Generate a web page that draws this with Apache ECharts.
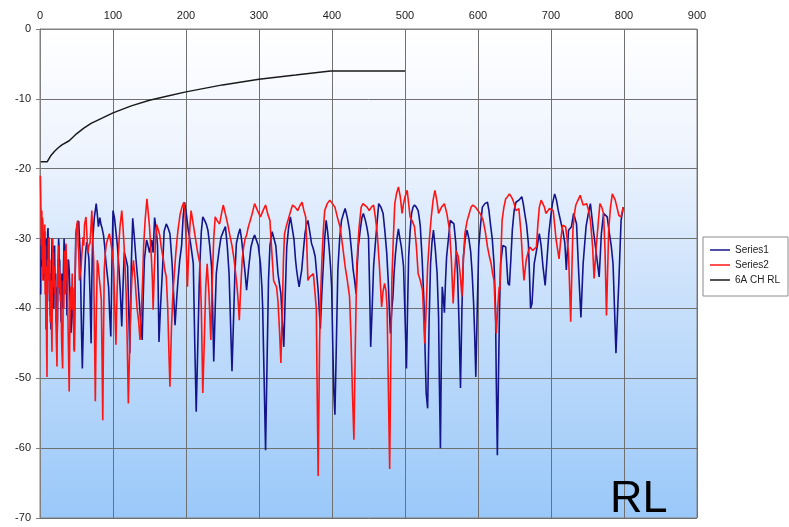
<!DOCTYPE html>
<html>
<head>
<meta charset="utf-8">
<script src="https://cdn.jsdelivr.net/npm/echarts@6/dist/echarts.min.js"></script>
<style>html,body{margin:0;padding:0;background:#fff}#c{width:789px;height:527px}</style>
</head>
<body>
<div id="c"></div>
<script>
const seriesNames = ['Series1', 'Series2', '6A CH RL'];
const xTicks = [0, 100, 200, 300, 400, 500, 600, 700, 800, 900];
const yTicks = [0, -10, -20, -30, -40, -50, -60, -70];

const series1Data = [[1,-38],[1.5,-30],[2,-34],[2.5,-28],[3,-32],[3.5,-27.5],[4,-33],[4.5,-30],[5,-36],[5.5,-31],[6,-34],[6.5,-29],[7,-35.5],[7.5,-32],[8,-38],[8.5,-31],[9,-30],[9.5,-35],[10,-33],[10.5,-29],[11,-28.5],[11.5,-32],[12,-36],[12.5,-33],[13,-39],[13.5,-35],[14,-41],[14.5,-37],[15,-43],[15.5,-36],[16,-33],[16.5,-30],[17,-34],[17.5,-31],[18,-37],[18.5,-33],[19,-40],[19.5,-34],[20,-31],[20.5,-36],[21,-38],[21.5,-35],[22,-42],[22.5,-37],[23,-39],[23.5,-44],[24,-41.5],[24.5,-36],[25,-33],[25.5,-30],[26,-31],[26.5,-35],[27,-33],[27.5,-38],[28,-36],[28.5,-40],[29,-42],[29.5,-37],[30,-35],[31,-40],[32,-35],[33,-30],[34,-34],[35,-31],[36,-36],[37,-41],[38,-35],[39,-33],[40,-34.5],[41,-38],[42.5,-43.5],[44,-40],[45,-38],[46,-42],[47,-46],[48,-37],[49,-29.5],[51,-28],[53,-27.5],[55,-32],[56,-38],[57,-44],[58,-48.6],[59.5,-42],[61,-35.5],[62.5,-32],[64,-30.5],[65.5,-31.5],[67,-33],[68.5,-38],[70,-45],[71,-36],[72,-30.5],[74.4,-27],[77,-25],[78.5,-26.5],[80,-28.3],[82,-27],[83.5,-28],[85,-28.5],[87,-29.5],[88.5,-31],[90,-33],[92,-35],[94,-37],[95.5,-41],[97,-44],[98.5,-34],[100,-26],[102,-27],[104,-29],[106,-31],[108,-34],[110,-37.5],[112,-42.6],[114,-36],[115.5,-32],[118,-33],[120,-34],[121.5,-40],[123,-46.4],[125,-34],[127,-27.1],[129,-29.5],[131.5,-33],[134,-36],[136,-39],[138,-42],[140,-44.5],[141.5,-38],[143,-33],[146,-30.2],[148,-31],[150,-32],[153,-30.2],[155,-32],[157,-27],[159,-28.5],[161,-31],[163,-44.8],[165,-40],[168,-34],[170,-29],[173,-27.9],[175.5,-28.5],[178,-29.3],[181,-33.6],[183,-38],[185,-42.4],[187,-39],[189,-36],[191.5,-33],[194,-31],[196,-27],[198,-24.8],[200.5,-26.5],[203,-28.8],[206,-30.5],[208,-32],[210,-33.6],[212,-45],[214,-54.8],[216,-46],[218,-37],[219,-33.6],[221,-29],[223,-26.9],[226,-27.5],[228,-28],[230,-28.8],[232.5,-31],[235,-34],[236.5,-40],[238,-47.6],[240,-40],[241.5,-35],[243,-33.6],[245.5,-31.5],[248,-29.8],[251,-29],[254,-28.3],[256.5,-31],[259,-35],[261,-42],[263,-49],[265,-42],[267,-35],[269,-30.7],[271.5,-29.5],[274,-28.6],[276,-30],[279,-33],[281,-35],[283,-37.4],[286,-34],[289,-31.2],[292,-30],[294,-29.5],[296,-29.3],[299,-31],[302,-33.6],[304,-37],[305,-39.8],[307,-50],[309,-60.3],[311,-48],[313,-36],[315,-31],[318,-29],[320,-28.8],[323,-31],[326,-35],[328,-36.5],[330,-37.9],[332,-42],[334,-45.5],[336,-38],[338,-31.2],[340.5,-28.5],[343,-26.9],[345.5,-28.5],[348,-30.2],[350,-33],[351.5,-34.5],[353.5,-36],[355,-36.9],[357,-35.5],[358.5,-34.5],[361,-31.5],[363,-29.3],[365,-28],[367,-27.4],[369.5,-29],[372,-30.7],[374.5,-31.5],[377,-32.6],[379,-35],[381,-37.4],[383,-41],[384,-42.9],[386,-38],[388,-34],[390,-30],[392,-27.4],[394,-29],[396,-31.2],[398,-34],[399.5,-36.9],[401,-45],[402.5,-52],[404,-55.2],[406,-45],[408,-34.5],[410.5,-30],[413,-27.4],[415.5,-26.5],[418,-25.7],[421,-27],[424,-28.8],[426.5,-31.5],[429,-34.5],[431,-36],[433,-37.9],[434.5,-34],[436,-31.2],[439,-28.5],[441,-27],[443,-26.4],[446,-27.5],[448,-28.5],[450,-29.8],[451.5,-37],[453,-45.5],[455,-40],[457,-34],[459,-31.2],[461.5,-28],[464,-25],[467,-25.5],[470,-26.4],[472.5,-29],[475,-32.1],[477,-36],[478.5,-40],[480,-43.6],[482,-40],[483.5,-38.3],[485,-35],[487,-32.1],[489,-30],[491,-28.6],[493,-30],[495,-31.2],[496.5,-32.5],[498,-34],[500,-41],[502,-48.6],[503.5,-40],[505,-32.6],[507,-29],[509,-26.4],[511,-25.5],[513,-25.2],[515.5,-25.5],[518,-26],[519.5,-27],[521,-28.3],[523.5,-33],[526,-39.3],[527.5,-46],[529,-52.1],[531,-54.3],[533,-42],[535,-33.6],[537,-30.5],[539,-28.8],[541.5,-31.5],[544,-35],[546,-41.2],[547,-50],[548.5,-60],[550,-45],[551,-36.9],[552.5,-38.5],[554,-40.6],[555.5,-36],[557,-32.6],[559.5,-30],[562,-27.4],[564.5,-27.5],[567,-27.9],[569.5,-30.5],[572,-35],[574,-42],[576,-51.4],[578,-40],[580,-32.6],[582.5,-30],[585,-28.8],[587.5,-30],[590,-31.9],[592,-35],[594,-39.3],[595.5,-44],[597,-49.8],[599,-40],[601,-31.2],[603.5,-28],[606,-25.5],[609.5,-25],[613,-24.8],[615,-26],[617,-27.9],[619.5,-30],[622,-33.6],[624,-40],[625,-50],[626.5,-61],[628,-50],[629.5,-40],[631,-33.6],[634,-31],[638,-31.2],[641,-36.4],[643,-36.7],[645,-33],[647,-28.8],[649.5,-26],[652,-24.8],[656,-24.5],[660,-24],[662,-25],[664,-26.4],[666.5,-28],[669,-30.7],[670.5,-35],[672,-40],[674,-39.3],[677,-33.6],[681,-31.2],[684,-29.3],[686.5,-31],[689,-34],[692,-36.7],[694.5,-33],[697,-29.3],[699.5,-27],[702,-25],[705,-23.6],[707.5,-24.5],[710,-26],[714,-27.9],[716.5,-29],[719,-30.7],[721,-34.5],[724,-28.8],[728,-28.3],[731,-26.4],[735,-27.9],[738,-35],[741,-41.3],[744,-33.6],[748,-28.3],[751,-26.5],[754,-25],[758,-28.8],[762,-32.1],[766,-35.5],[769,-29.3],[772,-26.4],[777,-26.9],[780,-29.3],[782.5,-31],[785,-33.6],[787,-40],[789,-46.4],[791,-41],[793,-36],[796,-27.4],[799,-25.5]];

const series2Data = [[0.5,-21],[1,-24],[1.5,-27],[2,-31],[2.5,-26],[3,-33],[3.5,-27],[4,-36],[4.5,-29],[5,-35],[5.5,-30],[6,-33],[6.5,-28],[7,-38],[7.5,-31],[8,-43],[8.5,-34],[9,-45],[9.6,-49.8],[10,-38],[10.5,-33],[11,-36],[11.5,-30],[12,-34],[12.5,-29.8],[13,-38],[13.5,-33],[14,-42],[14.6,-41.7],[15,-36],[15.5,-40],[16,-44],[16.4,-46.2],[17,-35],[17.5,-30],[18,-37],[18.5,-32],[19,-36],[19.5,-34],[20,-34.5],[20.5,-38],[21,-36],[21.5,-40],[22,-40.2],[22.5,-45],[23.3,-48.3],[24,-38],[24.5,-33],[25,-34.5],[25.5,-31],[26,-37],[26.5,-34],[27,-37],[27.5,-35],[28,-39],[28.5,-36],[29,-39.3],[29.5,-44],[30,-46],[31,-48.6],[32,-36],[32.7,-40],[33.3,-31.7],[34,-36],[34.5,-33],[35,-38],[35.6,-30.7],[36.3,-34],[37,-36],[37.5,-33],[38,-39.8],[39,-46],[40,-51.9],[41,-42],[41.7,-38],[42.5,-36.9],[43,-40],[43.5,-38],[44.1,-35],[44.7,-40.2],[45.3,-37],[46,-43],[47,-46.2],[48,-36],[49.3,-29.3],[50.5,-28],[51.6,-27.4],[52.3,-31],[53,-32],[54,-36],[55,-35],[56,-34.5],[57.5,-32],[59,-29.8],[60,-31],[61,-28],[63,-26.9],[64.5,-30],[65.7,-32.1],[67,-31],[68.5,-30.7],[70,-28],[71,-26],[72.3,-30],[73.5,-33.1],[74.5,-42],[75.8,-53.3],[77,-42],[78.5,-33.1],[80,-34],[81,-35.5],[82.5,-37],[84,-38.8],[85,-47],[86,-56],[87,-44],[88,-34.5],[89.5,-32],[91,-30.7],[93,-30],[95,-29.3],[97,-30.5],[98.6,-31.7],[100,-33],[101,-34.5],[102.5,-40],[104,-45.2],[105.5,-38],[107,-33.1],[108.5,-30],[109.6,-28.3],[111,-27],[112,-26],[113.5,-28],[115,-30.7],[116.5,-34],[118,-37.9],[119.5,-45],[121,-53.6],[123,-45],[124.6,-38.8],[126,-35.5],[128,-33.1],[130,-35.5],[131.5,-37.9],[133,-40],[135,-41.7],[137,-44.5],[139,-40],[140.6,-36],[142,-31],[144,-27.4],[146.5,-24.3],[148,-26],[150,-28.3],[152.5,-32.6],[154,-36],[155,-40.2],[156.5,-35],[158,-30.7],[160,-28],[162,-27.9],[164,-29.5],[166,-31.2],[169,-33],[171,-34.5],[173,-35.5],[175,-40],[176.5,-46],[178,-51.2],[180,-43],[182,-38],[184,-35],[186.5,-31.5],[189,-28.8],[192,-26.5],[194.5,-25.5],[197,-24.8],[198.5,-26],[200,-30],[202,-36.9],[204,-31],[205.5,-28],[207,-26],[210,-28],[213,-30],[216,-32],[219,-33.6],[221,-40],[222,-46],[223,-52.1],[225,-45],[227,-37],[229,-33.6],[231.5,-38],[234,-44.5],[236,-36],[238,-30],[240,-26.9],[243,-27.5],[246,-27.9],[248.5,-26.5],[251,-25.2],[254,-26.5],[257,-27.9],[260,-29.5],[263,-31],[266,-33.1],[268,-35],[270,-37],[271.5,-39],[273,-41.7],[275,-37],[277,-33],[279,-31.2],[281,-30],[283,-29.5],[285,-28.5],[287,-28.3],[290.5,-26.5],[294,-25],[298,-26],[302,-26.9],[305.5,-26],[309,-25.2],[312,-26.5],[315,-27.4],[317,-31],[320,-36],[322,-36.5],[324,-36.9],[326,-39],[328,-43],[330,-47.8],[332,-40],[333.5,-33],[335,-29.3],[338,-28],[341,-26.9],[343.5,-26],[346,-25.2],[349.5,-25.5],[353,-26],[356,-25.3],[359,-24.8],[361.5,-26],[364,-26.9],[365.5,-31],[367,-36],[369.5,-35.5],[372,-35.5],[374.5,-35],[377,-35],[378.5,-40],[379.5,-50],[381,-64],[383,-45],[384.5,-38],[386,-33.6],[388,-29],[390,-26],[393.5,-25],[397,-24.5],[400.5,-25],[404,-25.5],[407.5,-27],[411,-28.3],[414.5,-31],[418,-34],[421,-36],[424,-38.3],[426,-44],[428,-52],[430,-58.8],[432,-45],[434,-33.6],[437,-28.5],[440,-25.5],[442.5,-25],[445,-24.8],[448,-25.5],[451,-26],[454,-25.5],[457,-25.2],[459.5,-27],[462,-29.3],[465,-34],[468,-39.8],[470,-37.5],[472,-36.4],[474,-37.5],[475.5,-40],[477,-50],[479,-63],[480.5,-48],[482,-36],[484,-30],[486,-25],[488.5,-23.5],[491,-22.6],[493.5,-24],[496,-26.4],[498,-25],[500,-24],[503,-23.1],[505,-25],[507,-26.9],[510,-27.5],[513,-28.3],[515.5,-31],[518,-35],[521,-36],[524,-37.4],[525.5,-41],[527,-45],[529,-40],[531,-34],[533.5,-30],[536,-26.9],[538.5,-24.5],[541,-23.1],[543.5,-24.5],[546,-26.4],[550,-25.5],[554,-25],[557.5,-26.5],[561,-28.8],[563.5,-33],[566,-39.3],[568,-35],[570,-31.7],[573,-32.6],[575.5,-35],[578,-38.3],[580,-33],[582,-29.3],[585,-27.5],[588,-26.4],[590.5,-25.5],[593,-25.2],[596.5,-25.5],[600,-26],[603.5,-26.5],[607,-27.4],[610,-29],[613,-31.2],[615.5,-32.5],[618,-33.6],[620,-35],[622,-36],[623.5,-40],[625,-43.6],[627,-40],[629,-36.9],[630,-37.4],[631.5,-32],[633,-27.4],[635.5,-25.5],[638,-24.3],[640.5,-24],[643,-23.6],[645.5,-24],[648,-24.5],[650,-25.2],[652,-26],[656,-25.7],[659,-29.3],[661,-33],[663,-36],[666,-33.1],[668.5,-32],[671,-31.2],[675,-31.7],[680,-31.2],[682,-28],[684,-25.5],[686.5,-24.5],[689,-24.3],[691,-25.5],[693,-26.4],[698,-25.7],[703,-26],[705,-28],[707,-30.2],[709,-31.5],[711,-32.9],[713.5,-30],[716,-28.1],[720,-28.3],[722,-30],[724,-32.1],[725.5,-37],[727,-41.9],[728.5,-35],[730,-28.8],[732,-26.5],[734,-25.2],[737,-24.5],[740,-23.8],[742,-24.5],[744,-25.2],[749,-25],[751.5,-26],[754,-27.4],[757,-31.2],[759,-35.7],[762,-31.2],[764.5,-28],[767,-25],[769.5,-25.5],[772,-26.4],[774,-31.7],[776,-41],[777.5,-35],[779,-28.8],[781.5,-25.5],[784,-23.6],[788,-24.5],[793,-26.7],[796,-26.9],[799,-25.5]];

const limitData = [[1,-19],[10,-19],[15,-18.1],[20,-17.5],[25,-17],[30,-16.6],[40,-16],[50,-15],[60,-14.2],[70,-13.5],[80,-13],[90,-12.5],[100,-12],[125,-11],[150,-10.2],[175,-9.6],[200,-9],[250,-8],[300,-7.2],[350,-6.6],[398,-6],[500,-6]];

const chart = echarts.init(document.getElementById('c'), null, {renderer: 'canvas'});
const font = 'Liberation Sans';
chart.setOption({
  animation: false,
  backgroundColor: '#ffffff',
  textStyle: {fontFamily: font},
  grid: {
    left: 40, top: 29, right: 92, bottom: 9,
    show: true,
    borderColor: '#808080', borderWidth: 1,
    backgroundColor: {
      type: 'linear', x: 0, y: 0, x2: 0, y2: 1,
      colorStops: [
        {offset: 0, color: '#ffffff'},
        {offset: 0.25, color: '#eef4fe'},
        {offset: 0.55, color: '#c9e0fb'},
        {offset: 1, color: '#99c8f9'}
      ]
    }
  },
  legend: {
    orient: 'vertical',
    left: 703, top: 237,
    data: seriesNames,
    icon: 'rect',
    itemWidth: 20, itemHeight: 1.5, itemGap: 3,
    padding: [7, 8, 10, 7],
    backgroundColor: '#ffffff',
    borderColor: '#8c8c8c', borderWidth: 1, borderRadius: 0,
    textStyle: {fontSize: 10, color: '#222', fontFamily: font, lineHeight: 12}
  },
  xAxis: {
    type: 'value', position: 'top',
    min: xTicks[0], max: xTicks[xTicks.length - 1], interval: 100,
    axisLine: {show: true, lineStyle: {color: '#808080'}},
    axisTick: {show: false},
    axisLabel: {color: '#222', fontSize: 11, margin: 8, fontFamily: font},
    splitLine: {show: true, lineStyle: {color: '#707070', width: 1}}
  },
  yAxis: {
    type: 'value',
    min: yTicks[yTicks.length - 1], max: yTicks[0], interval: 10,
    axisLine: {show: true, lineStyle: {color: '#808080'}},
    axisTick: {show: true, length: 4, lineStyle: {color: '#808080'}},
    axisLabel: {color: '#222', fontSize: 11, margin: 9, fontFamily: font},
    splitLine: {show: true, lineStyle: {color: '#707070', width: 1}}
  },
  graphic: [{
    type: 'text', left: 610, top: 477, z: 100,
    style: {text: 'RL', fontSize: 45, fontFamily: font, fill: '#000'}
  }],
  series: [
    {name: seriesNames[0], type: 'line', data: series1Data, symbol: 'none', showSymbol: false,
     lineStyle: {color: '#14148c', width: 1.6}, itemStyle: {color: '#14148c'}, z: 2},
    {name: seriesNames[1], type: 'line', data: series2Data, symbol: 'none', showSymbol: false,
     lineStyle: {color: '#ff1414', width: 1.6}, itemStyle: {color: '#ff1414'}, z: 3},
    {name: seriesNames[2], type: 'line', data: limitData, symbol: 'none', showSymbol: false,
     lineStyle: {color: '#1a1a1a', width: 1.5}, itemStyle: {color: '#1a1a1a'}, z: 4}
  ]
});
</script>
</body>
</html>
